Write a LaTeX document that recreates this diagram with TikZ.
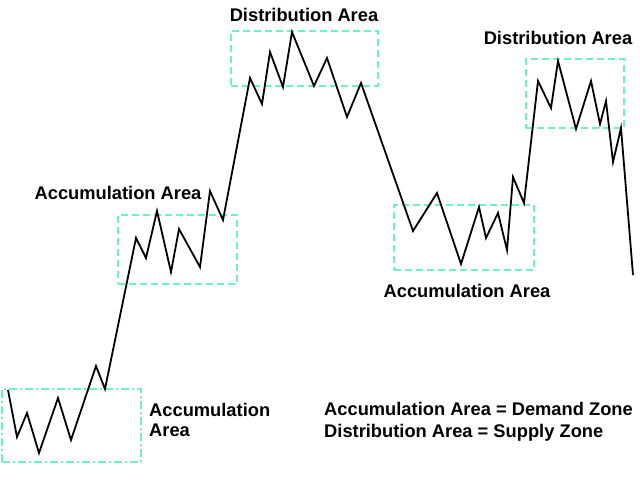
\documentclass[tikz,border=0pt]{standalone}
\usepackage{fontspec}
\setmainfont{Liberation Sans}
\usetikzlibrary{positioning}
\definecolor{zone}{RGB}{110,240,200}

\begin{document}
\begin{tikzpicture}[x=1pt,y=-1pt]
		\tikzset{zonebox/.style={rectangle, draw=zone, line width=1.6pt, dash pattern=on 7pt off 4pt, inner sep=0pt},
			lbl/.style={font=\bfseries\fontsize{18.3}{20}\selectfont, inner sep=0pt},
			price/.style={line width=1.8pt, line join=miter}}
		\useasboundingbox (0,0) rectangle (640,480);
		
		\node [zonebox, dash pattern=on 8pt off 3pt on 2pt off 3pt, minimum width=139pt, minimum height=73pt] (acc1) at (71.5,425.5){};
		\node [zonebox, minimum width=119pt, minimum height=69pt] (acc2) at (177.5,249.5){};
		\node [zonebox, minimum width=147pt, minimum height=55pt] (dis1) at (304.5,58.5){};
		\node [zonebox, minimum width=140pt, minimum height=65pt] (acc3) at (464,237.5){};
		\node [zonebox, minimum width=98pt, minimum height=69pt] (dis2) at (575,93.5){};
		
		\draw[price] (8,390) -- (17,437) -- (27,413) -- (39,453) -- (58,398) -- (71,440) -- (96,366) -- (105,389)
			-- (136,238) -- (146,258) -- (157,211) -- (171,272) -- (179,229) -- (200,267) -- (210,191) -- (223,220)
			-- (250,78) -- (262,104) -- (270,52) -- (283,87) -- (292,32) -- (314,86) -- (327,58) -- (347,117) -- (361,83)
			-- (413,231) -- (437,193) -- (461,264) -- (479,207) -- (486,238) -- (498,213) -- (507,250) -- (513,177) -- (524,203)
			-- (538,81) -- (551,108) -- (558,61) -- (576,129) -- (591,81) -- (600,124) -- (606,101) -- (613,162) -- (621,128) -- (633,275);
		
		\node [lbl, anchor=west, align=left] (acc1t) at (149,420) {Accumulation\\Area};
		\node [lbl] (acc2t) at (118,193) {Accumulation Area};
		\node [lbl] (dis1t) at (304,15) {Distribution Area};
		\node [lbl] (acc3t) at (467,291) {Accumulation Area};
		\node [lbl] (dis2t) at (558,38) {Distribution Area};
		
		\node [lbl, anchor=west, align=left, font=\bfseries\fontsize{18.3}{22}\selectfont] (legend) at (324,422) {Accumulation Area = Demand Zone\\Distribution Area = Supply Zone};
	\end{tikzpicture}
\end{document}
